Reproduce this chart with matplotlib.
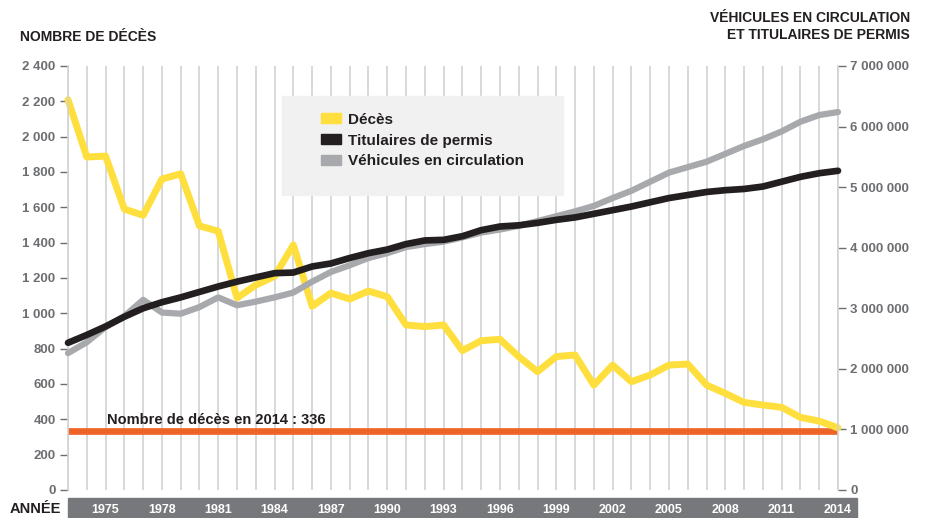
import numpy as np
import matplotlib
matplotlib.use("Agg")
import matplotlib.pyplot as plt
from matplotlib.patches import Patch, Rectangle


# DATA
years = list(range(1973, 2015))
deaths = [2209, 1885, 1890, 1590, 1555, 1760, 1790, 1495, 1465, 1087,
          1160, 1210, 1387, 1040, 1115, 1081, 1126, 1094, 934, 925,
          934, 789, 845, 853, 755, 670, 755, 764, 594, 707,
          613, 651, 707, 713, 594, 547, 496, 481, 468, 411,
          390, 352]
# millions
permits = [2.43, 2.56, 2.70, 2.86, 3.00, 3.10, 3.18, 3.27, 3.36, 3.44,
           3.51, 3.58, 3.59, 3.69, 3.74, 3.83, 3.91, 3.97, 4.06, 4.12,
           4.13, 4.19, 4.29, 4.35, 4.37, 4.41, 4.46, 4.50, 4.56, 4.62,
           4.68, 4.75, 4.82, 4.87, 4.92, 4.95, 4.97, 5.01, 5.09, 5.17,
           5.23, 5.27]
vehicles = [2.26, 2.44, 2.69, 2.87, 3.14, 2.93, 2.91, 3.02, 3.18, 3.05,
            3.11, 3.18, 3.26, 3.44, 3.60, 3.71, 3.83, 3.91, 4.01, 4.06,
            4.10, 4.17, 4.25, 4.30, 4.36, 4.44, 4.52, 4.60, 4.69, 4.82,
            4.94, 5.09, 5.24, 5.33, 5.42, 5.55, 5.68, 5.79, 5.92, 6.08,
            6.19, 6.24]
deaths_2014 = 336
year_labels = list(range(1975, 2015, 3))
left_ticks = list(range(0, 2401, 200))
right_ticks = list(range(0, 7000001, 1000000))

YELLOW = "#FFDF3D"
BLACK = "#231F20"
GREY = "#A7A9AC"
ORANGE = "#EE6326"
TICKGREY = "#6D6E71"
GRIDGREY = "#D1D2D4"

plt.rcParams['font.family'] = ['Liberation Sans', 'DejaVu Sans']
narrow = ['Liberation Sans Narrow', 'Liberation Sans', 'DejaVu Sans']

W, H = 926, 518
fig = plt.figure(figsize=(W / 100, H / 100), dpi=100)
ax = fig.add_axes([68 / W, 28 / H, 770 / W, 424 / H])
ax2 = ax.twinx()

def fmt(v):
    return f"{v:,}".replace(",", " ")

# grid: one vertical line per year
ax.set_xlim(1973, 2014)
ax.set_xticks(years, minor=True)
ax.set_xticks(year_labels)
ax.set_xticklabels([str(y) for y in year_labels], family=narrow,
                   fontsize=9, fontweight='bold', color='white')
ax.tick_params(axis='x', which='both', length=0, pad=10)
ax.grid(axis='x', which='both', color=GRIDGREY, lw=1.2)
ax.set_axisbelow(True)

ax.set_ylim(0, 2400)
ax.set_yticks(left_ticks)
ax.set_yticklabels([fmt(v) for v in left_ticks], fontsize=9.5,
                   fontweight='bold', color=TICKGREY)
ax.tick_params(axis='y', length=6, width=1, color=TICKGREY, pad=3)

ax2.set_ylim(0, 7000000)
ax2.set_yticks(right_ticks)
ax2.set_yticklabels([fmt(v) for v in right_ticks], fontsize=9.5,
                    fontweight='bold', color=TICKGREY)
ax2.tick_params(axis='y', length=6, width=1, color=TICKGREY, pad=3)

for a in (ax, ax2):
    for s in a.spines.values():
        s.set_visible(False)
for side in ('left', 'right'):
    ax2.spines[side].set_visible(True)
    ax2.spines[side].set_color(GRIDGREY)
    ax2.spines[side].set_linewidth(1.2)

# series
ax.axhline(deaths_2014, color=ORANGE, lw=4.8, zorder=2)
ax.text(1975.1, deaths_2014 + 22, "Nombre de décès en 2014 : " + str(deaths_2014),
        fontsize=10.5, fontweight='bold', color=BLACK, va='bottom', ha='left')

ax2.plot(years, np.array(vehicles) * 1e6, color=GREY, lw=4.5, zorder=3,
         solid_capstyle='round', solid_joinstyle='round', clip_on=False)
ax2.plot(years, np.array(permits) * 1e6, color=BLACK, lw=4.8, zorder=4,
         solid_capstyle='round', solid_joinstyle='round', clip_on=False)
ax2.plot(years, np.array(deaths) * 7000000 / 2400, color=YELLOW, lw=5, zorder=2,
         solid_capstyle='round', solid_joinstyle='round', clip_on=False)

# bottom year band
fig.patches.append(Rectangle((68 / W, 0), (857 - 68) / W, 20 / H,
                             transform=fig.transFigure, color='#77787B', zorder=-1))
fig.text(10 / W, 9 / H, "ANNÉE", fontsize=10.5, fontweight='bold', color=BLACK,
         va='center', ha='left', family=narrow)

# axis titles
fig.text(20 / W, 1 - 37 / H, "NOMBRE DE DÉCÈS", fontsize=10, fontweight='bold',
         color=BLACK, va='center', ha='left', family=narrow)
fig.text(910 / W, 1 - 18 / H, "VÉHICULES EN CIRCULATION", fontsize=10,
         fontweight='bold', color=BLACK, va='center', ha='right', family=narrow)
fig.text(910 / W, 1 - 35 / H, "ET TITULAIRES DE PERMIS", fontsize=10,
         fontweight='bold', color=BLACK, va='center', ha='right', family=narrow)

# legend box
fig.patches.append(Rectangle((282 / W, 1 - 195 / H), (563 - 282) / W, 99 / H,
                             transform=fig.transFigure, color='#F1F1F1', zorder=5))
handles = [Patch(color=YELLOW, label="Décès"),
           Patch(color=BLACK, label="Titulaires de permis"),
           Patch(color=GREY, label="Véhicules en circulation")]
leg = fig.legend(handles=handles, loc='upper left',
                 bbox_to_anchor=(313 / W, 1 - 105 / H), frameon=False,
                 fontsize=11, handlelength=1.3, handleheight=0.65,
                 handletextpad=0.5, labelspacing=0.45, borderpad=0)
for t in leg.get_texts():
    t.set_fontweight('bold')
    t.set_color(BLACK)
leg.set_zorder(6)

fig.savefig("out.png", dpi=100)
